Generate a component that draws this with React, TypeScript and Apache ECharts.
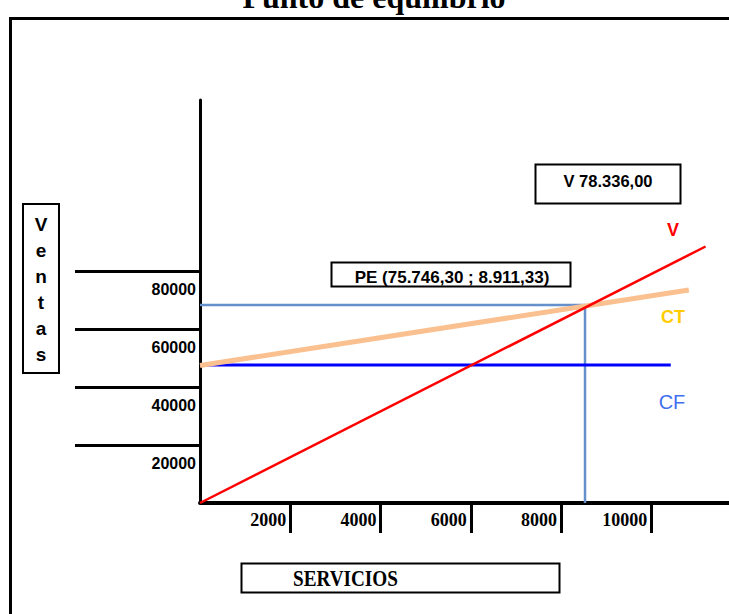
import React, { useEffect, useRef } from "react";
import * as echarts from "echarts";

// ---- data ----
const chartTitle = "Punto de equilibrio";
const yTickValues = [20000, 40000, 60000, 80000];
const xTickValues = [2000, 4000, 6000, 8000, 10000];
const ventas = [
  [0, 0],
  [11200, 88470],
];
const costoTotal = [
  [0, 47420],
  [10830, 73470],
];
const costoFijo = [
  [0, 47600],
  [10430, 47600],
];
const puntoEquilibrio = [
  [0, 68300],
  [8530, 68300],
  [8530, 0],
];
const boxVText = "V 78.336,00";
const boxPEText = "PE (75.746,30 ; 8.911,33)";
const xName = "SERVICIOS";
const yNameLetters = ["V", "e", "n", "t", "a", "s"];
const seriesLabels = ["V", "CT", "CF"];

const SANS = '"Liberation Sans", Arial, sans-serif';
const SERIF = '"Liberation Serif", "Times New Roman", serif';

export default function App() {
  const ref = useRef<HTMLDivElement>(null);

  useEffect(() => {
    if (!ref.current) return;
    const chart = echarts.init(ref.current, undefined, { renderer: "svg" });
    const plain = (v: number) => String(v);
    const option: any = {
      animation: false,
      backgroundColor: "#ffffff",
      grid: { left: 200, right: 0, top: 100, bottom: 111, containLabel: false },
      xAxis: {
        type: "value",
        min: 0,
        max: 11720,
        splitLine: { show: false },
        axisLine: { show: true, onZero: false, lineStyle: { color: "#000", width: 4 } },
        axisTick: {
          show: true,
          customValues: xTickValues,
          length: 30,
          inside: false,
          lineStyle: { color: "#000", width: 3 },
        },
        axisLabel: {
          show: true,
          customValues: xTickValues,
          formatter: plain,
          align: "right",
          verticalAlign: "middle",
          margin: 17,
          padding: [0, 4, 0, 0],
          fontFamily: SERIF,
          fontWeight: "bold",
          fontSize: 18,
          color: "#000",
        },
      },
      yAxis: {
        type: "value",
        min: 0,
        max: 139000,
        splitLine: { show: false },
        axisLine: { show: true, onZero: false, lineStyle: { color: "#000", width: 3 } },
        axisTick: {
          show: true,
          customValues: yTickValues,
          length: 125,
          inside: false,
          lineStyle: { color: "#000", width: 3 },
        },
        axisLabel: {
          show: true,
          customValues: yTickValues,
          formatter: plain,
          align: "right",
          verticalAlign: "top",
          margin: 4,
          padding: [10, 0, 0, 0],
          fontFamily: SANS,
          fontWeight: "bold",
          fontSize: 16,
          color: "#000",
        },
      },
      series: [
        {
          type: "line",
          name: "PE",
          data: puntoEquilibrio,
          symbol: "none",
          silent: true,
          lineStyle: { color: "#6590CC", width: 2.5 },
          z: 2,
        },
        {
          type: "line",
          name: "CF",
          data: costoFijo,
          symbol: "none",
          silent: true,
          lineStyle: { color: "#0000FF", width: 3 },
          z: 3,
        },
        {
          type: "line",
          name: "CT",
          data: costoTotal,
          symbol: "none",
          silent: true,
          lineStyle: { color: "#FAC090", width: 5 },
          z: 4,
        },
        {
          type: "line",
          name: "V",
          data: ventas,
          symbol: "none",
          silent: true,
          lineStyle: { color: "#FF0000", width: 2.5 },
          z: 5,
        },
      ],
      graphic: [
        {
          type: "text",
          x: 374,
          y: -3,
          style: {
            text: chartTitle,
            fontFamily: SERIF,
            fontWeight: "bold",
            fontSize: 32,
            fill: "#000",
            align: "center",
            verticalAlign: "middle",
          },
        },
        {
          type: "rect",
          shape: { x: 10.5, y: 18.5, width: 800, height: 700 },
          style: { fill: "transparent", stroke: "#000", lineWidth: 3 },
        },
        {
          type: "rect",
          shape: { x: 23, y: 204, width: 36, height: 169 },
          style: { fill: "transparent", stroke: "#000", lineWidth: 2 },
        },
        {
          type: "text",
          x: 41,
          y: 289,
          style: {
            text: yNameLetters.join("\n"),
            lineHeight: 26,
            fontFamily: SANS,
            fontWeight: "bold",
            fontSize: 19,
            fill: "#000",
            align: "center",
            verticalAlign: "middle",
          },
        },
        {
          type: "rect",
          shape: { x: 535.5, y: 164.5, width: 145, height: 39 },
          style: { fill: "#fff", stroke: "#000", lineWidth: 2 },
        },
        {
          type: "text",
          x: 608,
          y: 181,
          style: {
            text: boxVText,
            fontFamily: SANS,
            fontWeight: "bold",
            fontSize: 16.5,
            fill: "#000",
            align: "center",
            verticalAlign: "middle",
          },
        },
        {
          type: "rect",
          shape: { x: 331.5, y: 262.5, width: 239, height: 24 },
          style: { fill: "#fff", stroke: "#000", lineWidth: 2 },
        },
        {
          type: "text",
          x: 452,
          y: 277,
          style: {
            text: boxPEText,
            fontFamily: SANS,
            fontWeight: "bold",
            fontSize: 17,
            fill: "#000",
            align: "center",
            verticalAlign: "middle",
          },
        },
        {
          type: "rect",
          shape: { x: 241.5, y: 563.5, width: 318, height: 29 },
          style: { fill: "#fff", stroke: "#000", lineWidth: 2 },
        },
        {
          type: "text",
          x: 293,
          y: 578,
          scaleX: 0.8,
          style: {
            text: xName,
            fontFamily: SERIF,
            fontWeight: "bold",
            fontSize: 24,
            fill: "#000",
            align: "left",
            verticalAlign: "middle",
          },
        },
        {
          type: "text",
          x: 673,
          y: 230,
          style: {
            text: seriesLabels[0],
            fontFamily: SANS,
            fontWeight: "bold",
            fontSize: 18,
            fill: "#FF0000",
            align: "center",
            verticalAlign: "middle",
          },
        },
        {
          type: "text",
          x: 673,
          y: 317,
          style: {
            text: seriesLabels[1],
            fontFamily: SANS,
            fontWeight: "bold",
            fontSize: 18,
            fill: "#FFCC00",
            align: "center",
            verticalAlign: "middle",
          },
        },
        {
          type: "text",
          x: 672,
          y: 402,
          style: {
            text: seriesLabels[2],
            fontFamily: SANS,
            fontSize: 20,
            fill: "#3F6FEE",
            align: "center",
            verticalAlign: "middle",
          },
        },
      ],
    };
    chart.setOption(option);
    return () => chart.dispose();
  }, []);

  return (
    <div
      ref={ref}
      style={{ position: "absolute", left: 0, top: 0, width: 729, height: 614, background: "#fff" }}
    />
  );
}
